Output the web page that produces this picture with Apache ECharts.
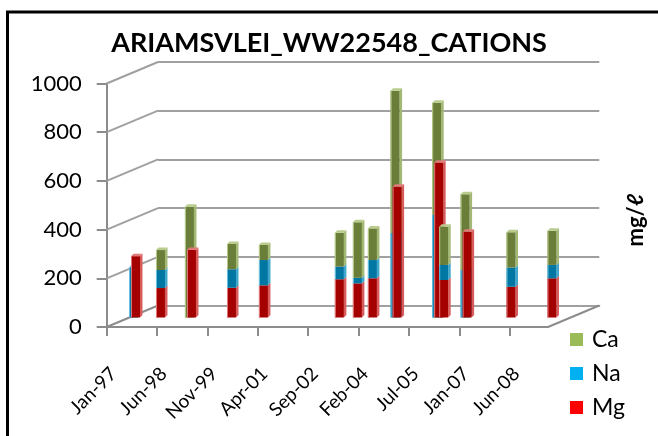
<!DOCTYPE html>
<html>
<head>
<meta charset="utf-8">
<script src="https://cdn.jsdelivr.net/npm/echarts@6/dist/echarts.min.js"></script>
<style>
  html, body { margin: 0; padding: 0; background: #fff; }
  #chart { width: 658px; height: 436px; }
</style>
</head>
<body>
<div id="chart"></div>
<script>
// axis: date axis in days counted from its first tick, one tick every 520 days
const axisStart = '1997-01-13'
const axisEndDay = 4556
const tickStep = 520
const tickLabels = ['Jan-97', 'Jun-98', 'Nov-99', 'Apr-01', 'Sep-02', 'Feb-04', 'Jul-05', 'Jan-07', 'Jun-08']
const yTicks = [0, 200, 400, 600, 800, 1000]

// samples (mg/l)
const sampleDates = ['1997-03-04', '1997-03-24', '1997-12-07', '1998-10-02', '1998-10-23', '1999-12-10',
  '2000-11-04', '2002-12-28', '2003-07-02', '2003-12-04', '2004-07-25', '2004-08-15', '2005-09-28',
  '2005-10-18', '2005-12-09', '2006-07-18', '2006-08-08', '2007-11-04', '2008-12-31']
const mgVals = [0, 252, 121, 0, 277, 122, 132, 157, 140, 161, 0, 537, 0, 636, 154, 0, 352, 126, 161]
const naVals = [206, 0, 74, 0, 0, 76, 104, 52, 23, 75, 347, 0, 421, 0, 62, 195, 0, 79, 55]
const caVals = [0, 0, 82, 455, 0, 104, 62, 139, 228, 130, 584, 0, 461, 0, 157, 311, 0, 145, 140]

const seriesNames = ['Ca', 'Na', 'Mg']
const legendColors = { Ca: '#9BBB59', Na: '#00B0F0', Mg: '#FF0000' }
// front / side / top shades of the 3d columns
const barShades = {
  Mg: ['#A50000', '#D85C5C', '#E07A7A'],
  Na: ['#0076A3', '#3FA6CC', '#6CC3E0'],
  Ca: ['#6A7E3A', '#A3B873', '#B9CC8C']
}

const dayMs = 86400000
const startMs = Date.parse(axisStart + 'T00:00:00Z')
const toDay = s => Math.round((Date.parse(s + 'T00:00:00Z') - startMs) / dayMs)
const tickDays = tickLabels.map((l, i) => i * tickStep)

const sampleData = sampleDates.map((d, i) => [toDay(d), mgVals[i], naVals[i], caVals[i]])

// depth offset between front plane and back wall
const DEPTH_X = 51.3
const DEPTH_Y = -21.5
const BAR_W = 9
const BAR_D = 2.5
const gridColor = '#a0a0a0'
const axisColor = '#8c8c8c'
const font = 'Lato, "Open Sans", sans-serif'

function renderColumn(params, api) {
  const x = api.value(0)
  const parts = [['Mg', api.value(1)], ['Na', api.value(2)], ['Ca', api.value(3)]]
  let lo = 0
  let top = 0
  parts.forEach(p => { if (p[1] > 0) top = lo + p[1]; lo += p[1] })
  const children = []
  lo = 0
  parts.forEach(p => {
    const v = p[1]
    if (!(v > 0)) return
    const hi = lo + v
    const b = api.coord([x, lo])
    const t = api.coord([x, hi])
    const xl = b[0] - BAR_W / 2
    const xr = b[0] + BAR_W / 2
    const sh = barShades[p[0]]
    children.push({
      type: 'polygon',
      shape: { points: [[xr, b[1]], [xr + BAR_D, b[1] - BAR_D], [xr + BAR_D, t[1] - BAR_D], [xr, t[1]]] },
      style: { fill: sh[1] }
    })
    children.push({
      type: 'rect',
      shape: { x: xl, y: t[1], width: BAR_W, height: b[1] - t[1] },
      style: { fill: sh[0] }
    })
    children.push({
      type: 'rect',
      shape: { x: xl, y: t[1], width: 1, height: b[1] - t[1] },
      style: { fill: sh[2] }
    })
    if (hi === top) {
      children.push({
        type: 'polygon',
        shape: { points: [[xl, t[1]], [xr, t[1]], [xr + BAR_D, t[1] - BAR_D], [xl + BAR_D, t[1] - BAR_D]] },
        style: { fill: sh[2] }
      })
    }
    lo = hi
  })
  return { type: 'group', children: children }
}

function renderDiagonal(params, api) {
  const p = api.coord([api.value(0), api.value(1)])
  return {
    type: 'line',
    shape: { x1: p[0], y1: p[1], x2: p[0] + DEPTH_X, y2: p[1] + DEPTH_Y },
    style: { stroke: api.value(1) === 0 ? axisColor : gridColor, lineWidth: 2 }
  }
}

const chart = echarts.init(document.getElementById('chart'), null, { renderer: 'canvas' })

chart.setOption({
  animation: false,
  backgroundColor: '#fff',
  title: {
    text: 'ARIAMSVLEI_WW22548_CATIONS',
    left: 'center',
    top: 25,
    textStyle: { fontFamily: font, fontSize: 27, fontWeight: 'bold', color: '#000' }
  },
  legend: {
    data: seriesNames,
    orient: 'vertical',
    left: 570,
    top: 328,
    icon: 'rect',
    itemWidth: 13,
    itemHeight: 13,
    itemGap: 11,
    padding: 0,
    textStyle: { fontFamily: font, fontSize: 23, color: '#000', padding: [0, 0, 0, 4] }
  },
  grid: [
    // front plane (axes)
    { left: 106.7, top: 83.5, width: 441.3, height: 243.5 },
    // back wall
    { left: 106.7 + DEPTH_X, top: 83.5 + DEPTH_Y, width: 441.3, height: 243.5 },
    // column plane
    { left: 128.7, top: 74, width: 441.3, height: 243.5 }
  ],
  xAxis: [
    {
      gridIndex: 0, type: 'value', min: 0, max: axisEndDay,
      axisLine: { lineStyle: { color: axisColor, width: 2 } },
      axisTick: { customValues: tickDays, length: 9, lineStyle: { color: axisColor, width: 2 } },
      axisLabel: {
        customValues: tickDays, rotate: 45, margin: 37, verticalAlign: 'top',
        fontFamily: font, fontSize: 19, color: '#000',
        formatter: v => tickLabels[Math.round(v / tickStep)]
      },
      splitLine: { show: false }
    },
    {
      gridIndex: 1, type: 'value', min: 0, max: axisEndDay,
      axisLine: { lineStyle: { color: gridColor, width: 2 } },
      axisTick: { show: false }, axisLabel: { show: false }, splitLine: { show: false }
    },
    { gridIndex: 2, type: 'value', min: 0, max: axisEndDay, show: false }
  ],
  yAxis: [
    {
      gridIndex: 0, type: 'value', min: 0, max: 1000, interval: 200,
      axisLine: { show: true, lineStyle: { color: axisColor, width: 2 } },
      axisTick: { show: true, length: 10, lineStyle: { color: axisColor, width: 2 } },
      axisLabel: { fontFamily: font, fontSize: 22, color: '#000', margin: 25, formatter: v => String(v) },
      splitLine: { show: false }
    },
    {
      gridIndex: 1, type: 'value', min: 0, max: 1000, interval: 200,
      axisLine: { show: false }, axisTick: { show: false }, axisLabel: { show: false },
      splitLine: { show: true, lineStyle: { color: gridColor, width: 2 } }
    },
    { gridIndex: 2, type: 'value', min: 0, max: 1000, show: false }
  ],
  graphic: [
    {
      type: 'rect', silent: true,
      shape: { x: 7.5, y: 12, width: 700, height: 500 },
      style: { fill: 'none', stroke: '#000', lineWidth: 3 }
    },
    {
      type: 'text', x: 636, y: 220, rotation: Math.PI / 2,
      style: {
        text: 'mg/ℓ', font: 'bold 22px ' + font, fill: '#000',
        align: 'center', verticalAlign: 'middle'
      }
    }
  ],
  series: [
    {
      type: 'custom', name: 'walls', xAxisIndex: 0, yAxisIndex: 0, z: 1, silent: true,
      renderItem: renderDiagonal,
      data: yTicks.map(v => [0, v]).concat([[axisEndDay, 0]])
    },
    {
      type: 'custom', name: 'columns', xAxisIndex: 2, yAxisIndex: 2, z: 3, silent: true,
      renderItem: renderColumn,
      data: sampleData
    }
  ].concat(seriesNames.map(n => ({
    type: 'bar', name: n, xAxisIndex: 2, yAxisIndex: 2, data: [],
    itemStyle: { color: legendColors[n] }
  })))
})
</script>
</body>
</html>
